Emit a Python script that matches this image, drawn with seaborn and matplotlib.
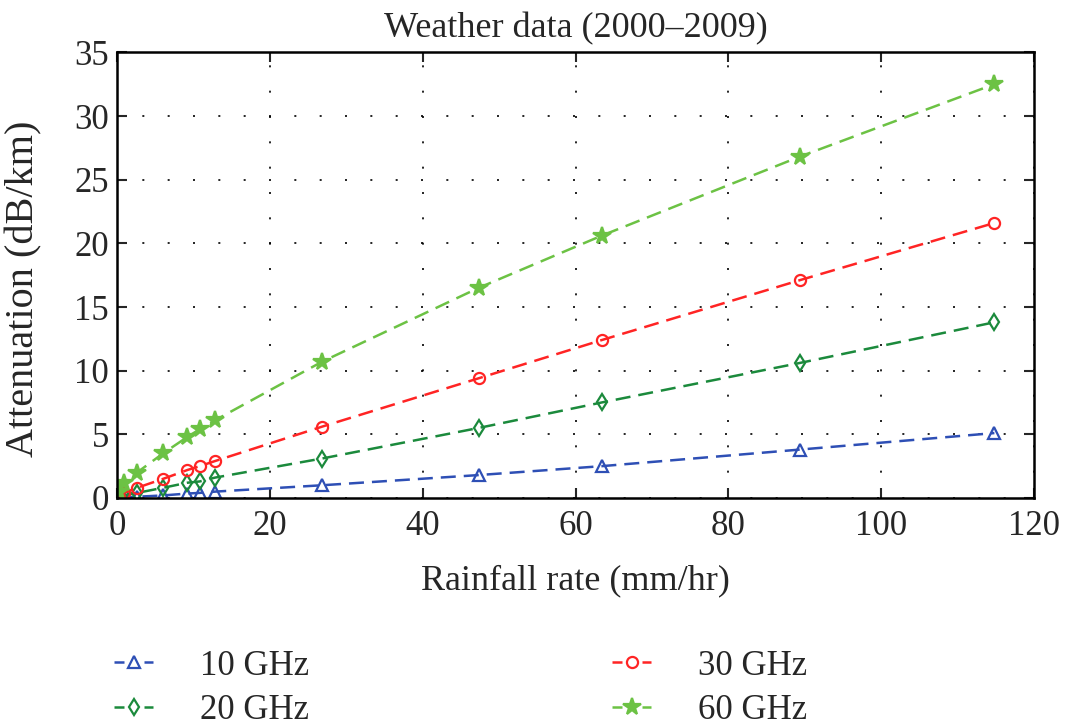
import pandas as pd
import matplotlib.pyplot as plt
import seaborn as sns

# Rainfall rates (mm/hr) and attenuation (dB/km)
rain_rate = [0.3, 0.9, 2.6, 6.0, 9.2, 10.8, 12.8, 26.8, 47.3, 63.4, 89.3, 114.8]
att_10 = [0.01, 0.03, 0.1, 0.2, 0.35, 0.4, 0.5, 1.0, 1.8, 2.5, 3.8, 5.1]
att_20 = [0.05, 0.2, 0.4, 0.8, 1.2, 1.3, 1.6, 3.1, 5.5, 7.5, 10.6, 13.8]
att_30 = [0.1, 0.4, 0.8, 1.5, 2.2, 2.5, 2.9, 5.6, 9.4, 12.4, 17.1, 21.6]
att_60 = [0.5, 1.2, 2.0, 3.5, 4.8, 5.4, 6.1, 10.7, 16.5, 20.6, 26.8, 32.5]

labels = ['10 GHz', '20 GHz', '30 GHz', '60 GHz']
series = [att_10, att_20, att_30, att_60]
colors = ['#2e4fb5', '#1b8a3c', '#ff2424', '#6cc244']
markers = ['^', 'd', 'o', '*']
filled = [False, False, False, True]
msizes = [8, 8, 8, 13]

sns.set_style('ticks')
plt.rcParams['font.family'] = ['Liberation Serif', 'DejaVu Serif']

fig = plt.figure(figsize=(10.65, 7.27), dpi=100)
ax = fig.add_axes([0.110, 0.315, 0.861, 0.613])

for lab, vals, col, mk, fl, ms in zip(labels, series, colors, markers, filled, msizes):
    df = pd.DataFrame({'rate': rain_rate, 'att': vals})
    sns.lineplot(data=df, x='rate', y='att', ax=ax, color=col, label=lab,
                 marker=mk, markersize=ms, markeredgecolor=col,
                 markerfacecolor=col if fl else 'none', markeredgewidth=1.6,
                 linewidth=1.8, dashes=(6, 3.2), estimator=None, sort=False)

ax.set_xlim(0, 120)
ax.set_ylim(0, 35)
ax.set_xticks(range(0, 121, 20))
ax.set_yticks(range(0, 36, 5))
ax.grid(True, color='black', linestyle=(0, (1.2, 14)), linewidth=1.2)
ax.tick_params(direction='in', length=7, width=1.5, labelsize=25,
               top=True, right=True)
ax.tick_params(axis='x', pad=9)
ax.tick_params(axis='y', pad=6)
for sp in ax.spines.values():
    sp.set_linewidth(1.8)
    sp.set_color('black')

ax.set_title('Weather data (2000\u20132009)', fontsize=26, pad=11)
ax.set_xlabel('Rainfall rate (mm/hr)', fontsize=26, labelpad=15)
ax.set_ylabel('Attenuation (dB/km)', fontsize=29)
ax.yaxis.set_label_coords(-0.081, 0.47)

handles, labs = ax.get_legend_handles_labels()
leg = ax.legend(handles, labs, loc='upper left', bbox_to_anchor=(-0.038, -0.27),
                ncol=2, frameon=False, fontsize=25, columnspacing=8.7,
                handlelength=1.15, handletextpad=1.35, labelspacing=0.32)
# short "- marker -" keys as in the original
for ln in leg.get_lines():
    ln.set_dashes((4, 8))

fig.savefig('out.png', dpi=100)
